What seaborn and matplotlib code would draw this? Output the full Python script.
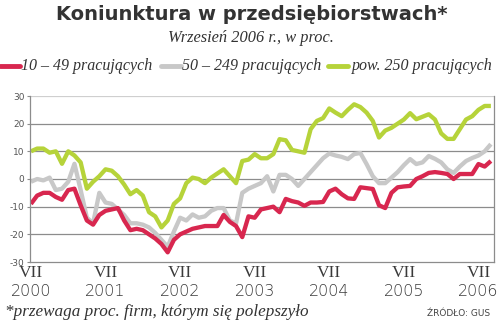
import numpy as np
import pandas as pd
import matplotlib
matplotlib.use("Agg")
import matplotlib.pyplot as plt
from matplotlib.lines import Line2D
from matplotlib.transforms import blended_transform_factory
import seaborn as sns

# ---- data (monthly, VII 2000 - IX 2006) ----
months = pd.period_range("2000-07", "2006-09", freq="M")
small = [-9, -6, -5, -5, -6.5, -7.5, -4, -3.5, -9.5, -15, -16.5, -13, -11.5, -11, -10.5,
         -15, -18.5, -18, -18.5, -20, -21.5, -23.5, -26.5, -22, -20, -19, -18, -17.5, -17,
         -17, -17, -13, -15.5, -17, -21, -13.5, -14, -11, -10.5, -10, -12, -7.2, -8, -8.5,
         -9.7, -8.5, -8.5, -8.3, -4.5, -3.5, -5.5, -7, -7.2, -3, -3.3, -3.6, -9.5, -10.5,
         -5, -3, -2.7, -2.5, 0, 1, 2.2, 2.5, 2.2, 1.8, 0, 1.8, 1.8, 1.8, 5.4, 4.5, 6.5]
medium = [-1, 0, -0.5, 0.5, -4, -3.5, -1, 5.5, -4, -14, -16, -5, -8.5, -9, -11, -13, -16,
          -16, -16.5, -17.5, -19.5, -22, -24.5, -19, -14, -15, -12.8, -14, -13.5, -11.5,
          -10.5, -10.5, -15, -16, -5, -3.5, -2.5, -1.5, 1, -4.5, 1.5, 1.5, 0, -2.5, 0, 2.5,
          5, 7.5, 9.2, 8.5, 8, 7.2, 9, 9.4, 5.4, 1, -1.5, -1.5, 0.5, 2.5, 5, 7.2, 5.4, 6,
          8.3, 7.3, 6, 3.5, 2.2, 4.5, 6.5, 7.6, 8.5, 10, 12.6]
large = [10, 11, 11, 9.5, 10, 5.5, 10, 8.5, 6, -3.5, -1, 1, 3.5, 3, 1, -2, -5.5, -4, -6,
         -12, -13.5, -17.5, -15, -9, -7, -1.5, 0.5, 0, -1.5, 0.5, 2, 3.5, 1, -1.5, 6.5, 7,
         9, 7.5, 7.5, 9, 14.4, 14, 10.5, 10, 9.5, 18, 21, 22, 25.5, 24, 22.7, 25, 27, 26,
         24, 21, 15, 17.5, 18.5, 20, 21.5, 23.8, 21.6, 22.5, 23.4, 21.5, 16.5, 14.5, 14.5,
         18, 21.5, 22.7, 25, 26.4, 26.4]
series_names = ["10 – 49 pracujących", "50 – 249 pracujących", "pow. 250 pracujących"]
colors = ["#d8274f", "#c8c8c8", "#b6d33a"]
yticks = [30, 20, 10, 0, -10, -20, -30]
xtick_month = "VII"
xtick_years = ["2000", "2001", "2002", "2003", "2004", "2005", "2006"]

idx = np.arange(len(months))
df = pd.DataFrame({
    "m": np.concatenate([idx, idx, idx]),
    "val": small + medium + large,
    "grp": np.repeat(series_names, len(idx)),
})

sns.set_style("white")
fig = plt.figure(figsize=(4.99, 3.23), dpi=100)
ax = fig.add_axes([30 / 499, 1 - 262 / 323, 464 / 499, 166 / 323])

# gridlines
for v in yticks:
    if v == 30:
        ax.axhline(v, color="#cfcfcf", lw=1.6, zorder=0)
    elif v == -30:
        continue
    else:
        ax.axhline(v, color="#8c8c8c", lw=0.9, zorder=0)

draw_order = [series_names[1], series_names[0], series_names[2]]
pal = dict(zip(series_names, colors))
for name in draw_order:
    sns.lineplot(data=df[df.grp == name], x="m", y="val", color=pal[name],
                 lw=3.1, ax=ax, legend=False, solid_joinstyle="round", solid_capstyle="butt")

ax.set_xlim(-0.15, 74.5)
ax.set_ylim(-30, 30)
ax.set_xlabel("")
ax.set_ylabel("")
ax.spines["top"].set_visible(False)
for s in ["left", "right", "bottom"]:
    ax.spines[s].set_color("#8c8c8c")
    ax.spines[s].set_linewidth(0.9)

ax.set_yticks(yticks)
ax.set_yticklabels([str(v) for v in yticks], fontsize=6.5, color="#555555",
                   family="DejaVu Sans")
ax.tick_params(axis="y", length=2.5, width=0.8, color="#8c8c8c", pad=1.5, left=True)

xt = [12 * k for k in range(len(xtick_years))]
ax.set_xticks(xt)
ax.set_xticklabels([xtick_month] * len(xt), fontsize=12.5, color="#3a3a3a",
                   family="Liberation Serif")
ax.tick_params(axis="x", length=0, pad=2.5)
trans = blended_transform_factory(ax.transData, fig.transFigure)
for x, yr in zip(xt, xtick_years):
    ax.text(x, 1 - 292 / 323, yr, transform=trans, ha="center", va="center",
            fontsize=11.5, color="#3a3a3a", family="DejaVu Sans", fontweight="light")

# titles
fig.text(0.505, 1 - 14 / 323, "Koniunktura w przedsiębiorstwach*", ha="center", va="center",
         fontsize=14, fontweight="bold", color="#333333", family="DejaVu Sans")
fig.text(0.503, 1 - 38 / 323, "Wrzesień 2006 r., w proc.", ha="center", va="center",
         fontsize=11.8, style="italic", color="#333333", family="Liberation Serif")

# legend
leg_y = 1 - 66 / 323
swatches = [(0, 20), (161, 181), (328, 348)]
text_x = [21, 182, 352]
for (x0, x1), tx, name, c in zip(swatches, text_x, series_names, colors):
    fig.add_artist(Line2D([x0 / 499, x1 / 499], [leg_y, leg_y], color=c, lw=3.5,
                          transform=fig.transFigure))
    fig.text(tx / 499, leg_y, name, ha="left", va="center", fontsize=11.5,
             style="italic", color="#333333", family="Liberation Serif")

fig.text(5 / 499, 1 - 312 / 323, "*przewaga proc. firm, którym się polepszyło", ha="left",
         va="center", fontsize=12.3, style="italic", color="#333333", family="Liberation Serif")
fig.text(490 / 499, 1 - 313 / 323, "ŹRÓDŁO: GUS", ha="right", va="center",
         fontsize=6.5, color="#444444", family="DejaVu Sans")

fig.savefig("out.png", dpi=100)
